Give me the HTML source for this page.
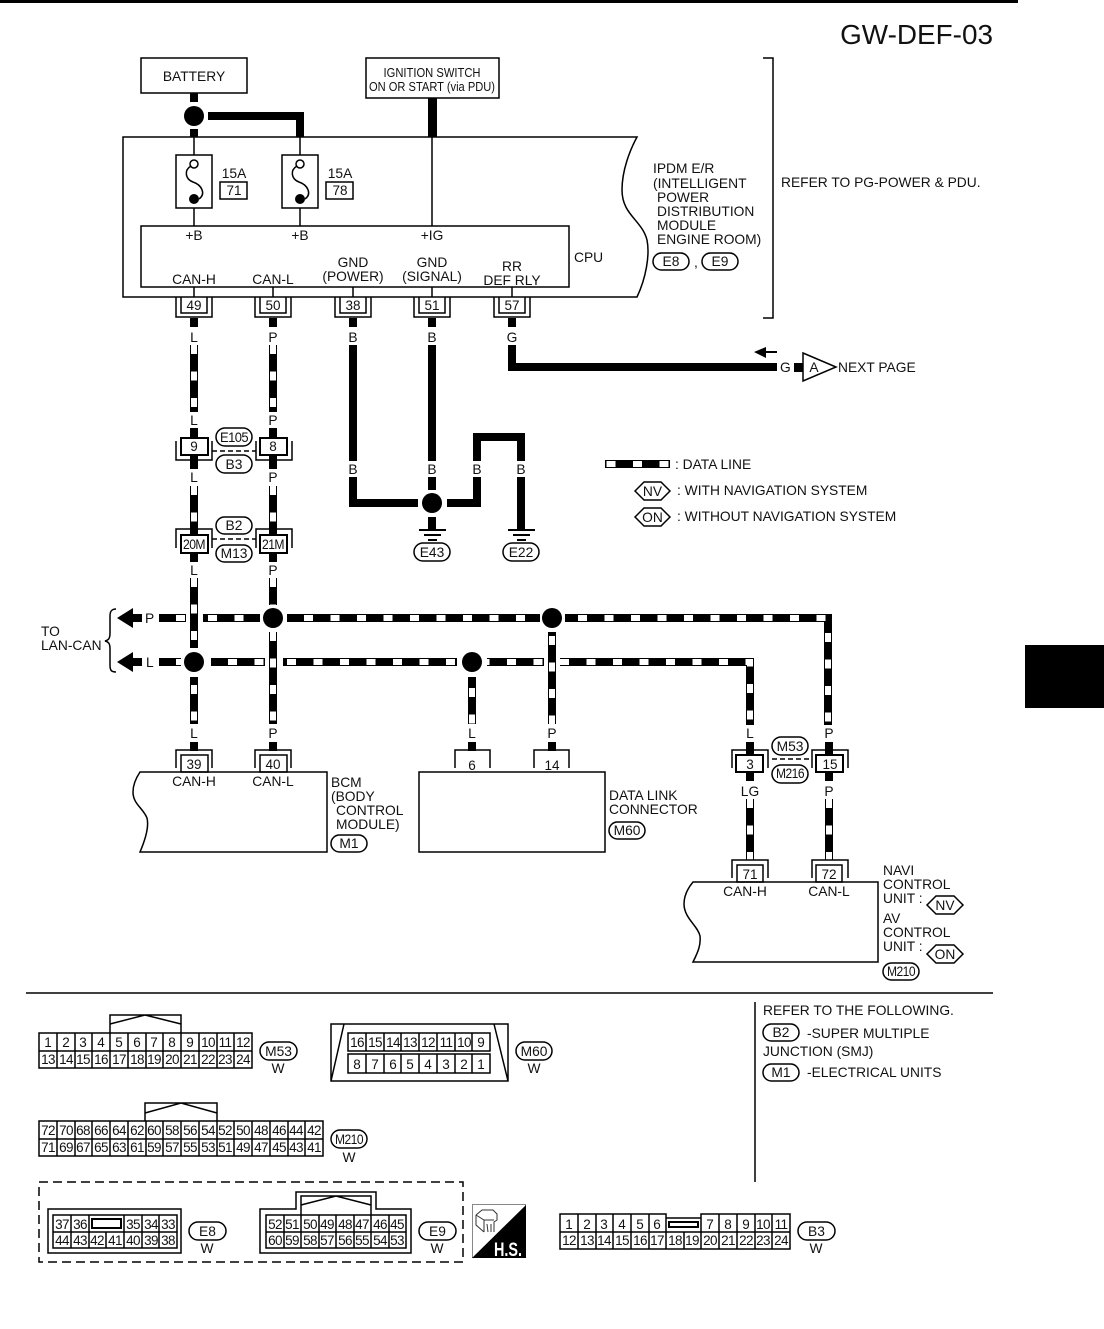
<!DOCTYPE html>
<html><head><meta charset="utf-8"><title>GW-DEF-03</title>
<style>
html,body{margin:0;padding:0;background:#fff}
svg{display:block}
text{font-family:"Liberation Sans",sans-serif;font-size:13.8px;fill:#111}
.m{text-anchor:middle}
.n{font-size:13.5px;text-anchor:middle}
.s{font-size:13.5px;letter-spacing:-.6px;text-anchor:middle}
.l{fill:none;stroke:#000;stroke-width:1.5}
.t{fill:none;stroke:#000;stroke-width:2}
.b{fill:none;stroke:#000;stroke-width:8}
.w{fill:none;stroke:#000;stroke-width:8}
.d{fill:none;stroke:#fff;stroke-width:6;stroke-dasharray:9 17.5}
.o{fill:#fff;stroke:#000;stroke-width:1.5}
</style></head><body>
<svg width="1104" height="1329" viewBox="0 0 1104 1329" xmlns="http://www.w3.org/2000/svg">
<rect x="0" y="0" width="1018" height="3" fill="#000"/>
<rect x="1025" y="645" width="79" height="63" fill="#000"/>
<text x="993" y="44" text-anchor="end" style="font-size:27.9px">GW-DEF-03</text>

<!-- top boxes -->
<rect class="l" x="141" y="58" width="106" height="35"/>
<text class="m" x="194" y="81">BATTERY</text>
<rect class="l" x="366" y="58" width="133" height="40"/>
<text class="m" x="432" y="77" style="font-size:13px" textLength="97" lengthAdjust="spacingAndGlyphs">IGNITION SWITCH</text>
<text class="m" x="432" y="91" style="font-size:13px" textLength="126" lengthAdjust="spacingAndGlyphs">ON OR START (via PDU)</text>

<!-- power wires -->
<path class="b" d="M194 93V102M194 129V137M208 116H300V137"/>
<path d="M428 98h9v39h-9z" fill="#000"/>
<circle cx="194" cy="116" r="10" fill="#000"/>

<!-- IPDM -->
<path class="l" d="M637 137H123V297H637C646 278 650 255 647 240C642 220 622 215 622 190C622 170 630 150 637 137Z"/>
<path class="l" d="M194 137V155M300 137V155M432 137V226M194 208V226M300 208V226M194 287V297M273 287V297M353 287V297M432 287V297M512 287V297"/>
<rect class="l" x="176" y="155" width="36" height="53"/>
<rect class="l" x="282" y="155" width="36" height="53"/>
<path class="l" d="M191 166C184 170 185 179 193 182C202 185 206 194 199 199"/>
<path class="l" d="M297 166C290 170 291 179 299 182C308 185 312 194 305 199"/>
<circle class="o" cx="194" cy="164" r="4"/><circle class="o" cx="300" cy="164" r="4"/>
<circle cx="194" cy="199" r="5" fill="#000"/><circle cx="300" cy="199" r="5" fill="#000"/>
<text class="m" x="234" y="178">15A</text><rect class="l" x="220" y="182" width="27" height="17"/><text class="n" x="234" y="195">71</text>
<text class="m" x="340" y="178">15A</text><rect class="l" x="326" y="182" width="27" height="17"/><text class="n" x="340" y="195">78</text>
<rect class="l" x="141" y="226" width="428" height="61"/>
<text class="m" x="194" y="240">+B</text><text class="m" x="300" y="240">+B</text><text class="m" x="432" y="240">+IG</text>
<text class="m" x="194" y="284">CAN-H</text><text class="m" x="273" y="284">CAN-L</text>
<text class="m" x="353" y="267">GND</text><text class="m" x="353" y="281">(POWER)</text>
<text class="m" x="432" y="267">GND</text><text class="m" x="432" y="281">(SIGNAL)</text>
<text class="m" x="512" y="271">RR</text><text class="m" x="512" y="285">DEF RLY</text>
<text x="574" y="262">CPU</text>
<text x="653" y="173">IPDM E/R</text><text x="653" y="188">(INTELLIGENT</text><text x="657" y="202">POWER</text><text x="657" y="216">DISTRIBUTION</text><text x="657" y="230">MODULE</text><text x="657" y="244">ENGINE ROOM)</text>
<rect class="l" x="653" y="253" width="36" height="17" rx="8.5"/><text class="m" x="671" y="266">E8</text>
<text x="694" y="267">,</text>
<rect class="l" x="702" y="253" width="36" height="17" rx="8.5"/><text class="m" x="720" y="266">E9</text>
<path class="l" d="M763 58H773V318H763"/>
<text x="781" y="187">REFER TO PG-POWER &amp; PDU.</text>

<!-- top connectors -->
<path class="l" d="M181 297V313H207V297M176 297V317H212V297"/>
<path class="l" d="M260 297V313H286V297M255 297V317H291V297"/>
<path class="l" d="M340 297V313H366V297M335 297V317H371V297"/>
<path class="l" d="M419 297V313H445V297M414 297V317H450V297"/>
<path class="l" d="M499 297V313H525V297M494 297V317H530V297"/>
<text class="n" x="194" y="310">49</text><text class="n" x="273" y="310">50</text><text class="n" x="353" y="310">38</text><text class="n" x="432" y="310">51</text><text class="n" x="512" y="310">57</text>
<path class="b" d="M194 318V327M273 318V327M353 318V327M432 318V327M512 318V327"/>
<text class="m" x="194" y="342">L</text><text class="m" x="273" y="342">P</text><text class="m" x="353" y="342">B</text><text class="m" x="432" y="342">B</text><text class="m" x="512" y="342">G</text>

<!-- data wires upper -->
<path class="w" d="M194 345V412M273 345V412M194 486V528M273 486V528M194 578V648M273 578V605"/>
<path class="d" d="M194 345V412M273 345V412M194 486V528M273 486V528M194 578V648M273 578V605"/>
<text class="m" x="194" y="425">L</text><text class="m" x="273" y="425">P</text>
<path class="b" d="M194 428V438M273 428V438M194 455V469M273 455V469"/>
<rect class="o" x="181" y="438" width="27" height="17" style="stroke-width:2"/><rect class="o" x="260" y="438" width="27" height="17" style="stroke-width:2"/>
<path class="l" d="M176 441V460H212V441M256 441V460H292V441"/>
<text class="n" x="194" y="451">9</text><text class="n" x="273" y="451">8</text>
<path class="l" stroke-dasharray="5 3" d="M212 451H256"/>
<rect class="o" x="216" y="428" width="36" height="18" rx="9"/><text class="s" x="234" y="442" textLength="28" lengthAdjust="spacingAndGlyphs">E105</text>
<rect class="o" x="216" y="455" width="36" height="18" rx="9"/><text class="m" x="234" y="469">B3</text>
<text class="m" x="194" y="482">L</text><text class="m" x="273" y="482">P</text>
<path class="b" d="M194 528V535M273 528V535M194 553V562M273 553V562"/>
<rect class="o" x="181" y="535" width="27" height="18" style="stroke-width:2"/><rect class="o" x="260" y="535" width="27" height="18" style="stroke-width:2"/>
<path class="l" d="M176 548V529H212V548M256 548V529H292V548"/>
<text class="s" x="194" y="549" textLength="22" lengthAdjust="spacingAndGlyphs">20M</text><text class="s" x="273" y="549" textLength="22" lengthAdjust="spacingAndGlyphs">21M</text>
<path class="l" stroke-dasharray="5 3" d="M212 539H256"/>
<rect class="o" x="216" y="517" width="36" height="17" rx="8.500"/><text class="m" x="234" y="530">B2</text>
<rect class="o" x="216" y="545" width="36" height="17" rx="8.500"/><text class="m" x="234" y="558">M13</text>
<text class="m" x="194" y="575">L</text><text class="m" x="273" y="575">P</text>

<!-- black wires -->
<path class="b" d="M353 345V461M432 345V461M512 345V367H777M353 477V503H418M432 477V490M432 517V529M447 503H477V477M477 461V437H521V461M521 477V529"/>
<circle cx="432" cy="503" r="10" fill="#000"/>
<text class="m" x="353" y="474">B</text><text class="m" x="432" y="474">B</text><text class="m" x="477" y="474">B</text><text class="m" x="521" y="474">B</text>
<path class="t" d="M419 530H446M424 535H441M428 540H437M508 530H535M513 535H530M517 540H526"/>
<rect class="l" x="414" y="543" width="36" height="18" rx="9"/><text class="m" x="432" y="557">E43</text>
<rect class="l" x="503" y="543" width="36" height="18" rx="9"/><text class="m" x="521" y="557">E22</text>

<!-- next page -->
<path d="M754 352L766 347V351H777V353H766V358Z" fill="#000"/>
<text x="780" y="372">G</text>
<path d="M794 363h10v9h-10z" fill="#000"/>
<path class="o" d="M803 353L836 367L803 381Z"/>
<text class="m" x="814" y="372">A</text>
<text x="838" y="372">NEXT PAGE</text>

<!-- legend -->
<path class="w" d="M605 464H670"/><path class="d" style="stroke-dashoffset:25" d="M605 464H670"/>
<text x="675" y="469">: DATA LINE</text>
<path class="l" d="M644 482H661L670 491L661 500H644L635 491Z"/><text class="m" x="652.500" y="496">NV</text>
<text x="677" y="495">: WITH NAVIGATION SYSTEM</text>
<path class="l" d="M644 508H661L670 517L661 526H644L635 517Z"/><text class="m" x="652.500" y="522">ON</text>
<text x="677" y="521">: WITHOUT NAVIGATION SYSTEM</text>

<!-- LAN-CAN -->
<text x="41" y="636">TO</text><text x="41" y="650">LAN-CAN</text>
<path class="l" d="M116 609C111 609 110 612 110 616V633C110 638 109 640 105 641C109 642 110 644 110 649V665C110 670 111 672 116 672"/>
<path d="M117 618L133 608V614H142V622H133V628Z" fill="#000"/>
<path d="M117 662L133 652V658H142V666H133V672Z" fill="#000"/>
<text x="145" y="623">P</text><text x="146" y="667">L</text>

<!-- data bus -->
<path class="w" d="M159 618H186"/><path class="d" style="stroke-dashoffset:9.500" d="M159 618H186"/>
<path class="w" d="M203 618H260"/><path class="d" style="stroke-dashoffset:21.500" d="M203 618H260"/>
<path class="w" d="M287 618H540"/><path class="d" style="stroke-dashoffset:9.500" d="M287 618H540"/>
<path class="w" d="M565 618H828V725"/><path class="d" style="stroke-dashoffset:13.500" d="M565 618H828V725"/>
<path class="w" d="M159 662H181"/><path class="d" style="stroke-dashoffset:9.500" d="M159 662H181"/>
<path class="w" d="M211 662H265"/><path class="d" style="stroke-dashoffset:9.500" d="M211 662H265"/>
<path class="w" d="M283 662H457"/><path class="d" style="stroke-dashoffset:22.500" d="M283 662H457"/>
<path class="w" d="M487 662H544"/><path class="d" style="stroke-dashoffset:6.500" d="M487 662H544"/>
<path class="w" d="M560 662H750V725"/><path class="d" d="M560 662H750V725"/>
<path class="w" d="M194 677V724"/><path class="d" style="stroke-dashoffset:18.500" d="M194 677V724"/>
<path class="w" d="M273 632V724"/><path class="d" d="M273 632V724"/>
<path class="w" d="M472 677V724"/><path class="d" style="stroke-dashoffset:15.500" d="M472 677V724"/>
<path class="w" d="M552 632V724"/><path class="d" style="stroke-dashoffset:22.500" d="M552 632V724"/>
<path class="w" d="M750 799V860M829 799V860"/><path class="d" d="M750 799V860M829 799V860"/>
<circle cx="273" cy="618" r="10" fill="#000"/><circle cx="552" cy="618" r="10" fill="#000"/>
<circle cx="194" cy="662" r="10" fill="#000"/><circle cx="472" cy="662" r="10" fill="#000"/>
<text class="m" x="194" y="738">L</text><text class="m" x="273" y="738">P</text><text class="m" x="472" y="738">L</text><text class="m" x="552" y="738">P</text><text class="m" x="750" y="738">L</text><text class="m" x="829" y="738">P</text>
<path class="b" d="M194 742V751M273 742V751M472 742V751M552 742V751M750 742V755M829 742V755M750 772V781M829 772V781"/>

<!-- BCM -->
<path class="l" d="M140 772H327V852H140C146 838 149 826 147 818C143 808 133 804 133 792C133 784 136 778 140 772Z"/>
<path class="l" d="M176 768V750H212V768M255 768V750H291V768"/>
<rect class="l" x="181" y="755" width="27" height="17"/><rect class="l" x="260" y="755" width="27" height="17"/>
<text class="n" x="194" y="769">39</text><text class="n" x="273" y="769">40</text>
<text class="m" x="194" y="786">CAN-H</text><text class="m" x="273" y="786">CAN-L</text>
<text x="331" y="787">BCM</text><text x="331" y="801">(BODY</text><text x="336" y="815">CONTROL</text><text x="336" y="829">MODULE)</text>
<rect class="l" x="331" y="835" width="36" height="17" rx="8.500"/><text class="m" x="349" y="848">M1</text>

<!-- DLC -->
<rect class="l" x="419" y="772" width="186" height="80"/>
<path class="l" d="M455 768V750H490V768M534 768V750H569V768"/>
<text class="n" x="472" y="770">6</text><text class="n" x="552" y="770">14</text>
<text x="609" y="800">DATA LINK</text><text x="609" y="814">CONNECTOR</text>
<rect class="l" x="609" y="822" width="36" height="17" rx="8.500"/><text class="m" x="627" y="835">M60</text>

<!-- Right connector -->
<rect class="o" x="736" y="755" width="27" height="17" style="stroke-width:2"/><rect class="o" x="816" y="755" width="27" height="17" style="stroke-width:2"/>
<path class="l" d="M732 768V750H768V768M812 768V750H848V768"/>
<text class="n" x="750" y="769">3</text><text class="n" x="830" y="769">15</text>
<path class="l" stroke-dasharray="5 3" d="M772 759H812"/>
<rect class="o" x="772" y="737" width="36" height="18" rx="9"/><text class="m" x="790" y="751">M53</text>
<rect class="o" x="772" y="765" width="36" height="18" rx="9"/><text class="s" x="790" y="778" textLength="28" lengthAdjust="spacingAndGlyphs">M216</text>
<text class="m" x="750" y="796">LG</text><text class="m" x="829" y="796">P</text>

<!-- Nav -->
<path class="l" d="M693 882H878V962H693C698 952 701 945 700 936C698 926 684 918 684 904C684 895 688 888 693 882Z"/>
<path class="l" d="M732 878V860H768V878M812 878V860H848V878"/>
<rect class="l" x="737" y="865" width="26" height="17"/><rect class="l" x="816" y="865" width="26" height="17"/>
<text class="n" x="750" y="879">71</text><text class="n" x="829" y="879">72</text>
<text class="m" x="745" y="896">CAN-H</text><text class="m" x="829" y="896">CAN-L</text>
<text x="883" y="875">NAVI</text><text x="883" y="889">CONTROL</text><text x="883" y="903">UNIT :</text>
<text x="883" y="923">AV</text><text x="883" y="937">CONTROL</text><text x="883" y="951">UNIT :</text>
<path class="l" d="M936 896H954L963 905L954 914H936L927 905Z"/><text class="m" x="945" y="910">NV</text>
<path class="l" d="M936 945H954L963 954L954 963H936L927 954Z"/><text class="m" x="945" y="959">ON</text>
<rect class="l" x="883" y="963" width="36" height="17" rx="8.500"/><text class="s" x="901" y="976" textLength="28" lengthAdjust="spacingAndGlyphs">M210</text>

<!-- dividers -->
<path class="l" d="M26 993H993M755 1002V1182"/>
<text x="763" y="1015">REFER TO THE FOLLOWING.</text>
<rect class="l" x="763" y="1024" width="36" height="17" rx="8.500"/><text class="m" x="781" y="1037">B2</text>
<text x="807" y="1038">-SUPER MULTIPLE</text><text x="763" y="1056">JUNCTION (SMJ)</text>
<rect class="l" x="763" y="1064" width="36" height="17" rx="8.500"/><text class="m" x="781" y="1077">M1</text>
<text x="807" y="1077">-ELECTRICAL UNITS</text>

<!-- M53 -->
<path class="l" d="M39 1033H252V1068H39ZM39 1051H252M57 1033V1068M75 1033V1068M92 1033V1068M110 1033V1068M128 1033V1068M146 1033V1068M163 1033V1068M181 1033V1068M199 1033V1068M217 1033V1068M234 1033V1068M110 1033V1015H181V1033M110 1024L145 1015L181 1024"/>
<text class="n" x="48" y="1047">1</text><text class="n" x="66" y="1047">2</text><text class="n" x="83" y="1047">3</text><text class="n" x="101" y="1047">4</text><text class="n" x="119" y="1047">5</text><text class="n" x="137" y="1047">6</text><text class="n" x="154" y="1047">7</text><text class="n" x="172" y="1047">8</text><text class="n" x="190" y="1047">9</text><text class="s" x="208" y="1047">10</text><text class="s" x="225" y="1047">11</text><text class="s" x="243" y="1047">12</text>
<text class="s" x="48" y="1064">13</text><text class="s" x="66" y="1064">14</text><text class="s" x="83" y="1064">15</text><text class="s" x="101" y="1064">16</text><text class="s" x="119" y="1064">17</text><text class="s" x="137" y="1064">18</text><text class="s" x="154" y="1064">19</text><text class="s" x="172" y="1064">20</text><text class="s" x="190" y="1064">21</text><text class="s" x="208" y="1064">22</text><text class="s" x="225" y="1064">23</text><text class="s" x="243" y="1064">24</text>
<rect class="l" x="260" y="1042" width="37" height="18" rx="9"/><text class="m" x="278.500" y="1056">M53</text><text class="m" x="278" y="1073">W</text>

<!-- M60 -->
<path class="l" d="M331 1024H508V1081H331ZM344 1024L331 1081M494 1024L508 1081"/>
<path class="l" d="M348 1033H490V1051H348ZM348 1054H490V1073H348ZM366 1033V1051M384 1033V1051M401 1033V1051M419 1033V1051M437 1033V1051M455 1033V1051M472 1033V1051M366 1054V1073M384 1054V1073M401 1054V1073M419 1054V1073M437 1054V1073M455 1054V1073M472 1054V1073"/>
<text class="s" x="357" y="1047">16</text><text class="s" x="375" y="1047">15</text><text class="s" x="393" y="1047">14</text><text class="s" x="410" y="1047">13</text><text class="s" x="428" y="1047">12</text><text class="s" x="446" y="1047">11</text><text class="s" x="464" y="1047">10</text><text class="n" x="481" y="1047">9</text>
<text class="n" x="357" y="1069">8</text><text class="n" x="375" y="1069">7</text><text class="n" x="393" y="1069">6</text><text class="n" x="410" y="1069">5</text><text class="n" x="428" y="1069">4</text><text class="n" x="446" y="1069">3</text><text class="n" x="464" y="1069">2</text><text class="n" x="481" y="1069">1</text>
<rect class="l" x="516" y="1042" width="36" height="18" rx="9"/><text class="m" x="534" y="1056">M60</text><text class="m" x="534" y="1073">W</text>

<!-- M210 -->
<path class="l" d="M39 1121H323V1156H39ZM39 1139H323M57 1121V1156M75 1121V1156M92 1121V1156M110 1121V1156M128 1121V1156M146 1121V1156M163 1121V1156M181 1121V1156M199 1121V1156M217 1121V1156M234 1121V1156M252 1121V1156M270 1121V1156M288 1121V1156M305 1121V1156M145 1121V1103H217V1121M145 1113L181 1103L217 1113"/>
<text class="s" x="48" y="1135">72</text><text class="s" x="66" y="1135">70</text><text class="s" x="83" y="1135">68</text><text class="s" x="101" y="1135">66</text><text class="s" x="119" y="1135">64</text><text class="s" x="137" y="1135">62</text><text class="s" x="154" y="1135">60</text><text class="s" x="172" y="1135">58</text><text class="s" x="190" y="1135">56</text><text class="s" x="208" y="1135">54</text><text class="s" x="225" y="1135">52</text><text class="s" x="243" y="1135">50</text><text class="s" x="261" y="1135">48</text><text class="s" x="279" y="1135">46</text><text class="s" x="296" y="1135">44</text><text class="s" x="314" y="1135">42</text>
<text class="s" x="48" y="1152">71</text><text class="s" x="66" y="1152">69</text><text class="s" x="83" y="1152">67</text><text class="s" x="101" y="1152">65</text><text class="s" x="119" y="1152">63</text><text class="s" x="137" y="1152">61</text><text class="s" x="154" y="1152">59</text><text class="s" x="172" y="1152">57</text><text class="s" x="190" y="1152">55</text><text class="s" x="208" y="1152">53</text><text class="s" x="225" y="1152">51</text><text class="s" x="243" y="1152">49</text><text class="s" x="261" y="1152">47</text><text class="s" x="279" y="1152">45</text><text class="s" x="296" y="1152">43</text><text class="s" x="314" y="1152">41</text>
<rect class="l" x="331" y="1130" width="36" height="18" rx="9"/><text class="s" x="349" y="1144" textLength="28" lengthAdjust="spacingAndGlyphs">M210</text><text class="m" x="349" y="1162">W</text>

<!-- dashed box -->
<rect class="l" x="39" y="1182" width="424" height="80" stroke-dasharray="9 5"/>

<!-- E8 -->
<rect class="l" x="48" y="1209" width="133" height="44"/>
<path class="l" d="M53 1215H177V1248H53ZM53 1232H177M71 1215V1248M89 1215V1248M124 1215V1248M142 1215V1248M159 1215V1248M106 1232V1248"/>
<rect class="l" x="92" y="1219" width="29" height="9" style="stroke-width:2"/>
<text class="s" x="62" y="1229">37</text><text class="s" x="80" y="1229">36</text><text class="s" x="133" y="1229">35</text><text class="s" x="151" y="1229">34</text><text class="s" x="168" y="1229">33</text>
<text class="s" x="62" y="1245">44</text><text class="s" x="80" y="1245">43</text><text class="s" x="97" y="1245">42</text><text class="s" x="115" y="1245">41</text><text class="s" x="133" y="1245">40</text><text class="s" x="151" y="1245">39</text><text class="s" x="168" y="1245">38</text>
<rect class="l" x="189" y="1222" width="37" height="18" rx="9"/><text class="m" x="207.500" y="1236">E8</text><text class="m" x="207" y="1253">W</text>

<!-- E9 -->
<path class="l" d="M260 1209H296V1192H376V1209H411V1253H260Z"/>
<path class="l" d="M266 1215H406V1248H266ZM266 1232H406M284 1215V1248M301 1215V1248M319 1215V1248M336 1215V1248M354 1215V1248M371 1215V1248M389 1215V1248M301 1215V1196H371V1215M301 1205L336 1196L371 1205"/>
<text class="s" x="275" y="1229">52</text><text class="s" x="292" y="1229">51</text><text class="s" x="310" y="1229">50</text><text class="s" x="327" y="1229">49</text><text class="s" x="345" y="1229">48</text><text class="s" x="362" y="1229">47</text><text class="s" x="380" y="1229">46</text><text class="s" x="397" y="1229">45</text>
<text class="s" x="275" y="1245">60</text><text class="s" x="292" y="1245">59</text><text class="s" x="310" y="1245">58</text><text class="s" x="327" y="1245">57</text><text class="s" x="345" y="1245">56</text><text class="s" x="362" y="1245">55</text><text class="s" x="380" y="1245">54</text><text class="s" x="397" y="1245">53</text>
<rect class="l" x="419" y="1222" width="37" height="18" rx="9"/><text class="m" x="437.500" y="1236">E9</text><text class="m" x="437" y="1253">W</text>

<!-- HS -->
<rect x="472.500" y="1204.500" width="53" height="53" fill="#fff" stroke="#888"/>
<path d="M526 1205V1258H472Z" fill="#000"/>
<path class="l" style="stroke-width:1;stroke:#333" d="M476 1215L482 1210H493L497 1214V1220L494 1222V1232M476 1215V1225L484 1232M476 1215L484 1220H494M484 1220V1232M487 1224L488 1232M491 1224L491 1232"/>
<text x="494" y="1256" style="font-size:19px;font-weight:bold;fill:#fff" textLength="28" lengthAdjust="spacingAndGlyphs">H.S.</text>

<!-- B3 -->
<path class="l" d="M560 1214H666V1218H701V1214H790V1249H560ZM560 1232H790M578 1214V1249M596 1214V1249M613 1214V1249M631 1214V1249M649 1214V1249M666 1214V1249M684 1232V1249M701 1214V1249M719 1214V1249M737 1214V1249M755 1214V1249M772 1214V1249"/>
<rect class="l" x="669" y="1222" width="29" height="5" style="stroke-width:2"/>
<text class="n" x="569" y="1229">1</text><text class="n" x="587" y="1229">2</text><text class="n" x="604" y="1229">3</text><text class="n" x="622" y="1229">4</text><text class="n" x="640" y="1229">5</text><text class="n" x="657" y="1229">6</text><text class="n" x="710" y="1229">7</text><text class="n" x="728" y="1229">8</text><text class="n" x="746" y="1229">9</text><text class="s" x="763" y="1229">10</text><text class="s" x="781" y="1229">11</text>
<text class="s" x="569" y="1245">12</text><text class="s" x="587" y="1245">13</text><text class="s" x="604" y="1245">14</text><text class="s" x="622" y="1245">15</text><text class="s" x="640" y="1245">16</text><text class="s" x="657" y="1245">17</text><text class="s" x="675" y="1245">18</text><text class="s" x="692" y="1245">19</text><text class="s" x="710" y="1245">20</text><text class="s" x="728" y="1245">21</text><text class="s" x="746" y="1245">22</text><text class="s" x="763" y="1245">23</text><text class="s" x="781" y="1245">24</text>
<rect class="l" x="798" y="1222" width="37" height="18" rx="9"/><text class="m" x="816.500" y="1236">B3</text><text class="m" x="816" y="1253">W</text>
</svg>
</body></html>
